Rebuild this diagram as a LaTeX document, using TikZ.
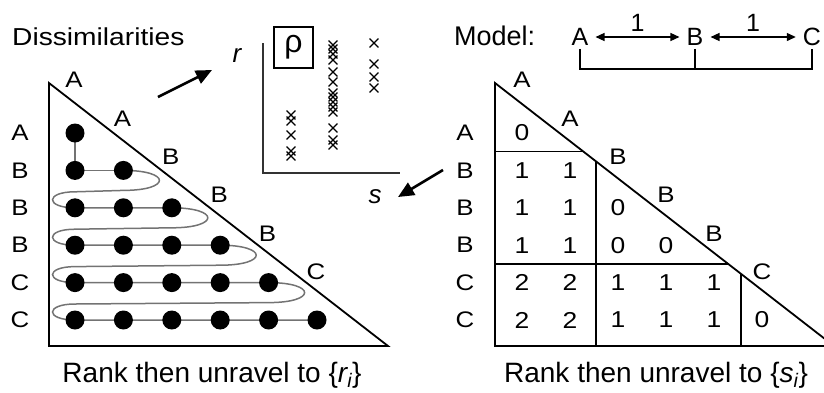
\documentclass[tikz,border=0pt]{standalone}
\usepackage{fontspec}
\setmainfont{Liberation Sans}
\newfontfamily\widefont[FakeStretch=1.15]{Liberation Sans}
\usetikzlibrary{arrows.meta,positioning,calc,backgrounds,shapes.misc}

\begin{document}
\begin{tikzpicture}[
    x=1pt, y=-1pt,
    title/.style={font=\fontsize{27}{31}\selectfont, anchor=base west, inner sep=0pt},
    caption/.style={font=\fontsize{28}{32}\selectfont, anchor=base, inner sep=0pt},
    lbl/.style={font=\widefont\fontsize{22.5}{26}\selectfont, inner sep=0pt},
    num/.style={font=\widefont\fontsize{23}{27}\selectfont, inner sep=0pt},
    letter/.style={font=\fontsize{25}{29}\selectfont, inner sep=3pt},
    axislbl/.style={font=\fontsize{26}{30}\selectfont\itshape, inner sep=0pt},
    dot/.style={circle, fill=black, minimum size=19pt, inner sep=0pt},
    xmark/.style={cross out, draw=black, line width=1.3pt, minimum size=7.5pt, inner sep=0pt},
    snake/.style={draw=black!55, line width=1.5pt},
    tri/.style={line width=1.8pt, line join=miter},
    axis/.style={draw=black!80, line width=2.2pt},
    pointer/.style={-{Triangle[length=16pt,width=14pt]}, line width=2.6pt},
    dist/.style={{Triangle[length=9pt,width=8pt]}-{Triangle[length=9pt,width=8pt]}, line width=1.3pt, shorten <=4pt, shorten >=4pt},
    bracket/.style={line width=1.5pt}
]
    \useasboundingbox (0,0) rectangle (824,392);
    \clip (0,0) rectangle (824,392);

    % Titles
    \node[title, font=\widefont\fontsize{24.5}{29}\selectfont] (dissim) at (12,45) {Dissimilarities};
    \node[title] (model) at (454,45) {Model:};

    % Model: A -- B -- C
    \node[letter] (mA) at (580,37) {A};
    \node[letter] (mB) at (695,37) {B};
    \node[letter] (mC) at (812,37) {C};
    \draw[dist] (mA) -- node[letter, inner sep=0pt, above=5pt] (oneAB) {1} (mB);
    \draw[dist] (mB) -- node[letter, inner sep=0pt, above=5pt] (oneBC) {1} (mC);
    \coordinate (brk) at (0,69);
    \draw[bracket] (mA.south) |- (mC.south |- brk) -- (mC.south);
    \draw[bracket] (mB.south) -- (mB.south |- brk);

    % Left triangle: dissimilarities
    \draw[tri] (49,83) -- (49,346) -- (388,346) -- cycle;
    \foreach \i in {0,...,5}
        \foreach \j in {0,...,\i}
            \node[dot] (d-\i-\j) at (75+48.4*\j, 133+37.4*\i) {};
    \begin{scope}[on background layer]
        \draw[snake] (d-0-0.center) -- (d-1-0.center) -- (d-1-1.center);
        \foreach \i [evaluate=\i as \k using int(\i+1)] in {1,...,4}
            \draw[snake] (d-\i-\i.center) .. controls +(48,0) and +(48,0) .. ++(0,20)
                -- ($(d-\k-0.center)+(0,-16)$) .. controls +(-30,0) and +(-30,0) .. (d-\k-0.center)
                -- (d-\k-\k.center);
    \end{scope}

    % Right triangle: model distances
    \draw[tri] (495,83) -- (495,346) -- (834,346) -- cycle;
    \draw[tri] (495,151.5) -- (583.3,151.5);
    \draw[tri] (596,161.4) -- (596,346);
    \draw[tri] (495,264) -- (728.3,264);
    \draw[tri] (741,273.9) -- (741,346);
    \foreach \i/\vals in {0/{0}, 1/{1,1}, 2/{1,1,0}, 3/{1,1,0,0}, 4/{2,2,1,1,1}, 5/{2,2,1,1,1,0}}
        \foreach \v [count=\j from 0] in \vals
            \node[num] (g-\i-\j) at (522+48*\j, 133+37.4*\i) {\v};

    % Row labels and diagonal labels
    \foreach \lab [count=\i from 0] in {A,B,B,B,C,C} {
        \node[lbl] (rl-\i) at (20, 133+37.4*\i) {\lab};
        \node[lbl] (rr-\i) at (465, 133+37.4*\i) {\lab};
    }
    \foreach \lab [count=\i from 0] in {A,A,B,B,B,C} {
        \node[lbl] (dl-\i) at (74+48.4*\i, 80+38.4*\i) {\lab};
        \node[lbl] (dr-\i) at (522+48*\i, 80+38.4*\i) {\lab};
    }

    % Scatter of r against s
    \draw[axis] (263,43) |- (400,173);
    \node[axislbl] (r) at (237,55) {r};
    \node[axislbl] (s) at (375,197) {s};
    \node[draw, line width=1.2pt, minimum width=39pt, minimum height=41pt, inner sep=0pt,
          font=\fontsize{32}{36}\selectfont] (rho) at (293.5,47.5) {ρ};
    \foreach \y [count=\n] in {115,121,135,151,156}
        \node[xmark] (xa-\n) at (291,\y) {};
    \foreach \y [count=\n] in {45,49,54,60,72,82,93,97,102,107,112,128,140,145}
        \node[xmark] (xb-\n) at (333,\y) {};
    \foreach \y [count=\n] in {43,64,77,88}
        \node[xmark] (xc-\n) at (374,\y) {};

    % Pointers
    \coordinate (p1s) at (158,97);
    \coordinate (p1e) at (212,70);
    \coordinate (p2s) at (443,170);
    \coordinate (p2e) at (398,197);
    \draw[pointer] (p1s) -- (p1e);
    \draw[pointer] (p2s) -- (p2e);

    % Captions
    \node[caption] (capl) at (212,382) {Rank then unravel to \{{\itshape r\textsubscript{i}}\}};
    \node[caption] (capr) at (656,382) {Rank then unravel to \{{\itshape s\textsubscript{i}}\}};
\end{tikzpicture}
\end{document}
